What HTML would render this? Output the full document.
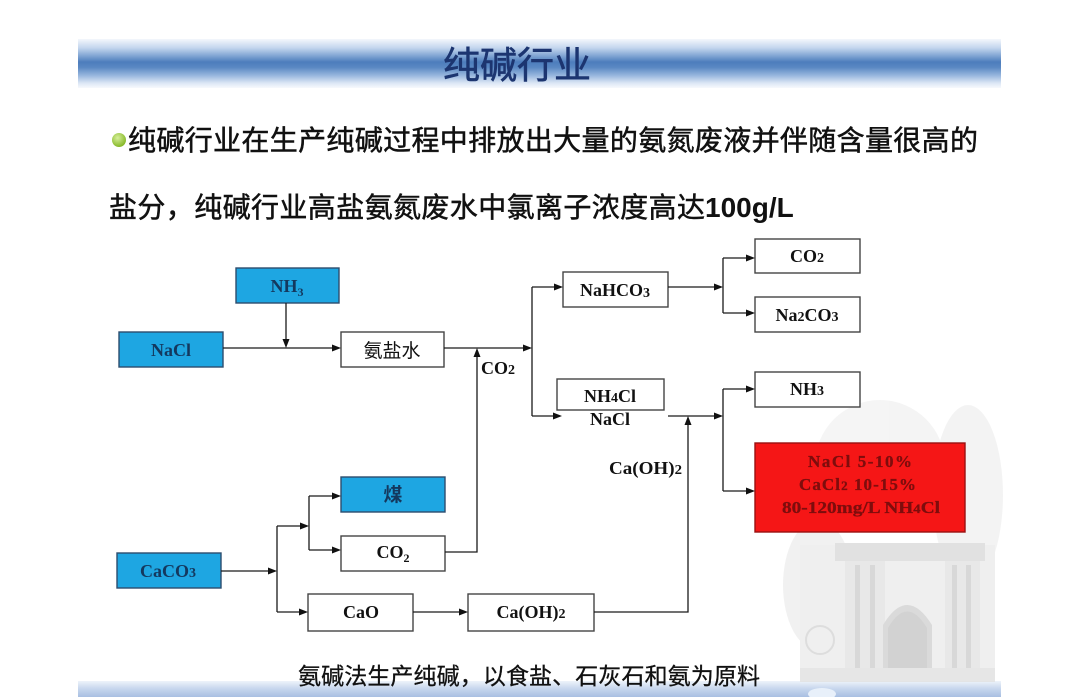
<!DOCTYPE html>
<html><head><meta charset="utf-8">
<style>
html,body{margin:0;padding:0;background:#fff;}
body{width:1080px;height:697px;overflow:hidden;position:relative;}
.topbar{position:absolute;left:78px;top:39px;width:923px;height:49px;
background:linear-gradient(to bottom,#f4f7fc 0%,#c4d6ee 18%,#7ea3d2 35%,#4d7dbc 47%,#5a88c3 58%,#9ab8df 75%,#dce7f5 90%,#f7f9fd 100%);}
.botbar{position:absolute;left:78px;top:681px;width:923px;height:16px;
background:linear-gradient(to bottom,#eef3fa 0%,#c9d8ee 45%,#a8bfe2 100%);}
svg{position:absolute;left:0;top:0;}
</style></head><body>
<div class="topbar"></div>
<div class="botbar"></div>
<svg width="1080" height="697" viewBox="0 0 1080 697" xmlns="http://www.w3.org/2000/svg">
<defs>
<radialGradient id="gb" cx="40%" cy="35%" r="65%">
<stop offset="0" stop-color="#d6ef9a"/><stop offset="1" stop-color="#86b828"/>
</radialGradient>
</defs>

<!-- background building sketch -->
<g opacity="0.85">
<ellipse cx="880" cy="465" rx="65" ry="65" fill="#f3f3f3"/>
<ellipse cx="968" cy="495" rx="35" ry="90" fill="#f2f2f2"/>
<ellipse cx="818" cy="585" rx="35" ry="65" fill="#efefef"/>
<rect x="800" y="545" width="195" height="137" fill="#ededed"/>
<rect x="835" y="543" width="150" height="18" fill="#dcdcdc"/>
<rect x="845" y="561" width="40" height="119" fill="#e4e4e4"/>
<rect x="855" y="565" width="5" height="110" fill="#d2d2d2"/>
<rect x="870" y="565" width="5" height="110" fill="#d2d2d2"/>
<rect x="945" y="561" width="35" height="119" fill="#e4e4e4"/>
<rect x="952" y="565" width="5" height="110" fill="#d2d2d2"/>
<rect x="966" y="565" width="5" height="110" fill="#d2d2d2"/>
<path d="M883 682 L883 625 Q907 585 932 625 L932 682 Z" fill="#d4d4d4"/>
<path d="M888 682 L888 628 Q907 595 927 628 L927 682 Z" fill="#cbcbcb"/>
<circle cx="820" cy="640" r="14" fill="none" stroke="#d8d8d8" stroke-width="2"/>
<rect x="800" y="668" width="195" height="14" fill="#e2e2e2"/>
</g>
<ellipse cx="822" cy="694" rx="14" ry="6" fill="#e8f0fa"/>

<!-- title -->
<text x="517" y="78" text-anchor="middle" font-family="'Liberation Sans','Noto Sans CJK SC',sans-serif" font-size="37" fill="#1c3570" stroke="#1c3570" stroke-width="0.6">纯碱行业</text>

<!-- bullet text -->
<circle cx="119" cy="140" r="7" fill="url(#gb)"/>
<g stroke="#111" stroke-width="0.5">
<text x="128" y="150" font-family="'Liberation Sans','Noto Sans CJK SC',sans-serif" font-size="28" fill="#111" textLength="850" lengthAdjust="spacing">纯碱行业在生产纯碱过程中排放出大量的氨氮废液并伴随含量很高的</text>
<text x="109" y="217" font-family="'Liberation Sans','Noto Sans CJK SC',sans-serif" font-size="28" fill="#111"><tspan textLength="596" lengthAdjust="spacing">盐分，纯碱行业高盐氨氮废水中氯离子浓度高达</tspan><tspan x="705" font-weight="bold" font-family="'Liberation Sans',sans-serif" stroke-width="0">100g/L</tspan></text>
</g>

<!-- boxes -->
<g stroke-width="1.4">
<rect x="236" y="268" width="103" height="35" fill="#1ea6e2" stroke="#2d4d6e"/>
<rect x="119" y="332" width="104" height="35" fill="#1ea6e2" stroke="#2d4d6e"/>
<rect x="341" y="332" width="103" height="35" fill="#fff" stroke="#444"/>
<rect x="563" y="272" width="105" height="35" fill="#fff" stroke="#444"/>
<rect x="557" y="379" width="107" height="31" fill="#fff" stroke="#444"/>
<rect x="755" y="239" width="105" height="34" fill="#fff" stroke="#444"/>
<rect x="755" y="297" width="105" height="35" fill="#fff" stroke="#444"/>
<rect x="755" y="372" width="105" height="35" fill="#fff" stroke="#444"/>
<rect x="755" y="443" width="210" height="89" fill="#f51616" stroke="#9a1010"/>
<rect x="341" y="477" width="104" height="35" fill="#1ea6e2" stroke="#2d4d6e"/>
<rect x="341" y="536" width="104" height="35" fill="#fff" stroke="#444"/>
<rect x="117" y="553" width="104" height="35" fill="#1ea6e2" stroke="#2d4d6e"/>
<rect x="308" y="594" width="105" height="37" fill="#fff" stroke="#444"/>
<rect x="468" y="594" width="126" height="37" fill="#fff" stroke="#444"/>
</g>

<!-- connector lines -->
<g stroke="#1a1a1a" stroke-width="1.3" fill="none">
<path d="M223 348 H334"/>
<path d="M286 303 V340"/>
<path d="M444 348 H525"/>
<path d="M445 552 H477 V356"/>
<path d="M532 287 V416"/>
<path d="M532 287 H556"/>
<path d="M532 416 H555"/>
<path d="M668 287 H716"/>
<path d="M723 258 V313"/>
<path d="M723 258 H748"/>
<path d="M723 313 H748"/>
<path d="M668 416 H716"/>
<path d="M594 612 H688 V424"/>
<path d="M723 389 V491"/>
<path d="M723 389 H748"/>
<path d="M723 491 H748"/>
<path d="M221 571 H270"/>
<path d="M277 526 V612"/>
<path d="M277 526 H302"/>
<path d="M277 612 H301"/>
<path d="M309 496 V550"/>
<path d="M309 496 H334"/>
<path d="M309 550 H334"/>
<path d="M413 612 H461"/>
</g>
<!-- arrowheads -->
<g fill="#111">
<polygon points="341,348 332,344.5 332,351.5"/>
<polygon points="286,348 282.5,339 289.5,339"/>
<polygon points="532,348 523,344.5 523,351.5"/>
<polygon points="477,348 473.5,357 480.5,357"/>
<polygon points="563,287 554,283.5 554,290.5"/>
<polygon points="562,416 553,412.5 553,419.5"/>
<polygon points="723,287 714,283.5 714,290.5"/>
<polygon points="755,258 746,254.5 746,261.5"/>
<polygon points="755,313 746,309.5 746,316.5"/>
<polygon points="723,416 714,412.5 714,419.5"/>
<polygon points="688,416 684.5,425 691.5,425"/>
<polygon points="755,389 746,385.5 746,392.5"/>
<polygon points="755,491 746,487.5 746,494.5"/>
<polygon points="277,571 268,567.5 268,574.5"/>
<polygon points="309,526 300,522.5 300,529.5"/>
<polygon points="308,612 299,608.5 299,615.5"/>
<polygon points="341,496 332,492.5 332,499.5"/>
<polygon points="341,550 332,546.5 332,553.5"/>
<polygon points="468,612 459,608.5 459,615.5"/>
</g>

<!-- labels -->
<g font-family="'Liberation Serif',serif" font-weight="bold" font-size="18" text-anchor="middle">
<text x="287" y="292" fill="#14385e">NH<tspan font-size="12" dy="4">3</tspan></text>
<text x="171" y="356" fill="#14385e">NaCl</text>
<text x="615" y="296" fill="#111">NaHCO<tspan font-size="14" dy="1">3</tspan></text>
<text x="610" y="402" fill="#111">NH<tspan font-size="14">4</tspan>Cl</text>
<text x="610" y="425" fill="#111">NaCl</text>
<text x="807" y="262" fill="#111">CO<tspan font-size="14">2</tspan></text>
<text x="807" y="321" fill="#111">Na<tspan font-size="14">2</tspan>CO<tspan font-size="14">3</tspan></text>
<text x="807" y="395" fill="#111">NH<tspan font-size="14">3</tspan></text>
<text x="393" y="558" fill="#111">CO<tspan font-size="12" dy="4">2</tspan></text>
<text x="168" y="577" fill="#14385e">CaCO<tspan font-size="14">3</tspan></text>
<text x="361" y="618" fill="#111">CaO</text>
<text x="531" y="618" fill="#111">Ca(OH)<tspan font-size="14">2</tspan></text>
</g>
<g font-family="'Liberation Serif',serif" font-weight="bold" font-size="18">
<text x="481" y="374" fill="#111">CO<tspan font-size="14">2</tspan></text>
<text x="609" y="474" fill="#111" textLength="73" lengthAdjust="spacingAndGlyphs">Ca(OH)<tspan font-size="14">2</tspan></text>
</g>
<g font-family="'Liberation Serif',serif" font-weight="bold" font-size="17" fill="#7e0d0d" stroke="#7e0d0d" stroke-width="0.3">
<text x="808" y="467" textLength="104" lengthAdjust="spacing">NaCl 5-10%</text>
<text x="799" y="490" textLength="117" lengthAdjust="spacing">CaCl<tspan font-size="13">2</tspan> 10-15%</text>
<text x="782" y="513" textLength="158" lengthAdjust="spacingAndGlyphs">80-120mg/L NH<tspan font-size="13">4</tspan>Cl</text>
</g>
<g font-family="'Liberation Sans','Noto Sans CJK SC',sans-serif" text-anchor="middle">
<text x="392" y="357" font-size="19" fill="#111">氨盐水</text>
<text x="393" y="501" font-size="19" fill="#14385e" font-weight="bold">煤</text>
<text x="529" y="684" font-size="23" fill="#111" stroke="#111" stroke-width="0.3" textLength="462" lengthAdjust="spacing">氨碱法生产纯碱，以食盐、石灰石和氨为原料</text>
</g>
</svg>
</body></html>
